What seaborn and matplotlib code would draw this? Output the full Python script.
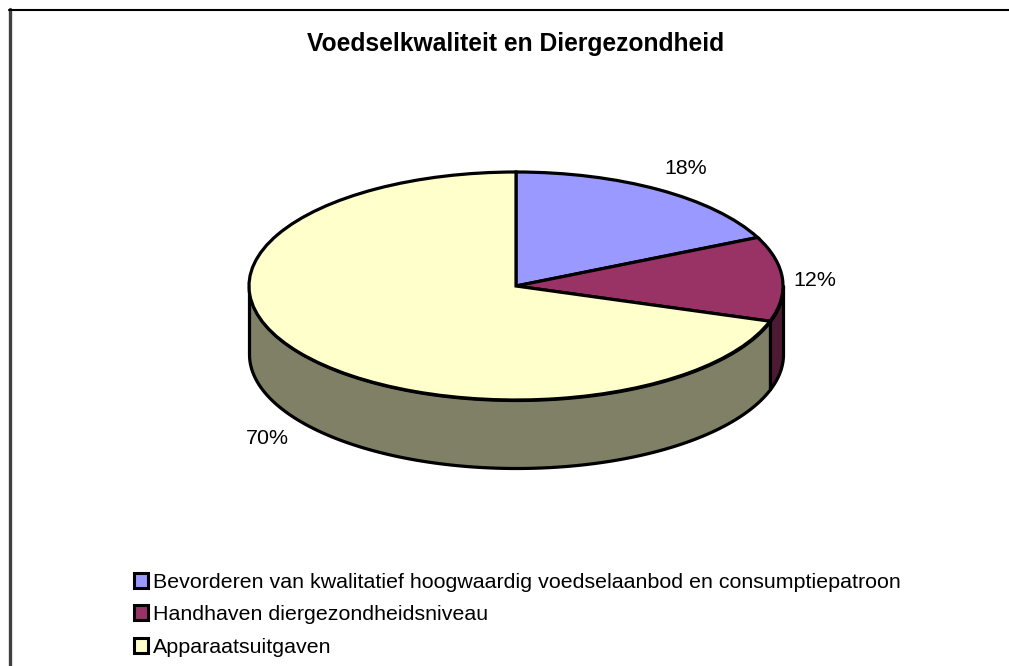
import numpy as np
import matplotlib
matplotlib.use("Agg")
import matplotlib.pyplot as plt
from matplotlib.lines import Line2D
import seaborn as sns

# data
title = "Voedselkwaliteit en Diergezondheid"
categories = ["Bevorderen van kwalitatief hoogwaardig voedselaanbod en consumptiepatroon",
              "Handhaven diergezondheidsniveau",
              "Apparaatsuitgaven"]
shares = [18, 12, 70]
top_colors = ["#9999FF", "#993366", "#FFFFCC"]
side_colors = ["#4D4D80", "#4D1A33", "#808066"]

sns.set_theme(style="white")
plt.rcParams["font.family"] = ["Liberation Sans", "DejaVu Sans"]

W, H = 1009, 666
fig = plt.figure(figsize=(W / 100, H / 100), dpi=100, facecolor="white")

def fx(x): return x / W
def fy(y): return 1 - y / H

# pixel geometry of the ellipse
left, right, top, bottom, depth_px = 249, 783, 172, 400, 68
ry = (bottom - top) / 2
depth = depth_px / ry
ax = fig.add_axes([fx(left), fy(bottom + depth_px), (right - left) / W, (bottom - top + depth_px) / H])

wedges, _ = ax.pie(shares, colors=top_colors, startangle=90, counterclock=False,
                   wedgeprops=dict(edgecolor="black", linewidth=2.3, zorder=3))
ax.set_aspect("auto")
ax.set_xlim(-1, 1)
ax.set_ylim(-1 - depth, 1)
ax.axis("off")

# side wall, derived from the shares
start = 90.0
for share, col in zip(shares, side_colors):
    end = start - share * 3.6
    a, b = max(end, -180.0), min(start, 0.0)
    if b > a:
        t = np.radians(np.linspace(a, b, 200))
        x, y = np.cos(t), np.sin(t)
        ax.fill_between(x, y, y - depth, color=col, edgecolor="black", linewidth=2.3, zorder=2,
                        clip_on=False)
    start = end
for w in wedges:
    w.set_clip_on(False)

# frame
fig.add_artist(Line2D([fx(10), fx(10)], [fy(9), 0], color="#404040", lw=2.4))
fig.add_artist(Line2D([fx(9), 1], [fy(9.5), fy(9.5)], color="black", lw=1.5))

fig.text(fx(515.5), fy(44), title, ha="center", va="center", fontsize=17.7, fontweight="bold", color="black")

label_pos = [(686, 169), (815, 280), (267, 439)]
for share, (px, py) in zip(shares, label_pos):
    fig.text(fx(px), fy(py), f"{share}%", ha="center", va="center", fontsize=15.4, color="black")

leg = fig.legend(wedges, categories, loc="upper left",
                 bbox_to_anchor=(fx(133.5), fy(572.5)), frameon=False, fontsize=15.4,
                 handlelength=0.70, handleheight=0.70, handletextpad=0.21, labelspacing=0.65,
                 borderpad=0, borderaxespad=0, labelcolor="black")
for h in leg.legend_handles:
    h.set_linewidth(2.2)
    h.set_edgecolor("black")

fig.savefig("out.png", dpi=100, facecolor="white")
